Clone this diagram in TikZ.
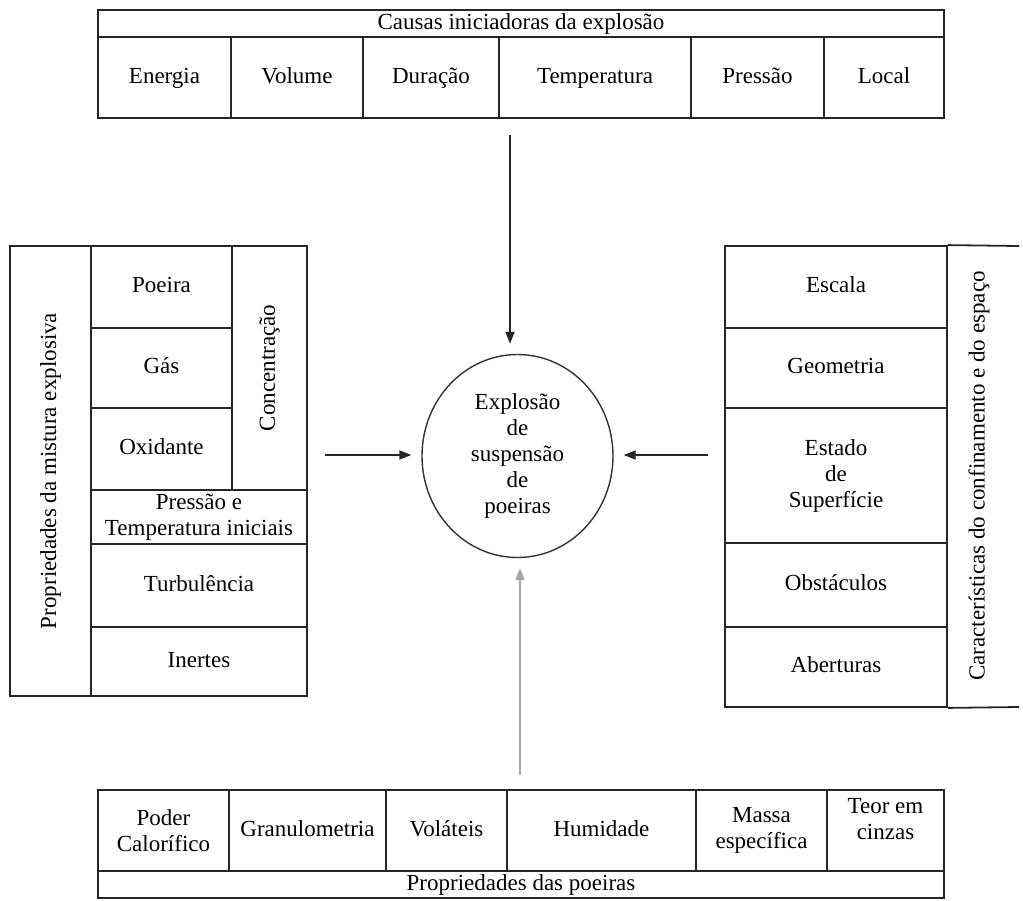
\documentclass[tikz,border=0pt]{standalone}
\usepackage{fontspec}
\setmainfont{Liberation Serif}
\usetikzlibrary{arrows.meta}
\usetikzlibrary{calc}
\usetikzlibrary{shapes.geometric}

\begin{document}
\begin{tikzpicture}[x=0.5pt,y=-0.5pt,
        cell/.style={draw=black!85, line width=0.9pt, rectangle, inner sep=0pt, align=center, text=black, text height=8pt, text depth=2.5pt, font=\fontsize{11.5}{13}\selectfont},
        multi/.style={text height={}, text depth={}},
        celltext/.style={inner sep=0pt, align=center, text=black, font=\fontsize{11.5}{13}\selectfont},
        vtext/.style={rotate=90, inner sep=0pt, text=black, font=\fontsize{11.5}{13}\selectfont},
        flow/.style={draw=black!85, line width=0.9pt, -{Triangle[length=6pt,width=4.5pt]}, shorten >=5pt}]
        \newcommand{\dustcell}[7][]{\node[cell, #1, minimum width={(#5-#3)*0.5pt}, minimum height={(#6-#4)*0.5pt}] (#2) at ({(#3+#5)/2},{(#4+#6)/2}) {#7};}
        \useasboundingbox (0,0) rectangle (1023,900);
        \dustcell{causas}{98}{10}{944}{37}{Causas iniciadoras da explosão}
        \dustcell{energia}{98}{37}{231}{118}{Energia}
        \dustcell{volume}{231}{37}{363}{118}{Volume}
        \dustcell{duracao}{363}{37}{499}{118}{Duração}
        \dustcell{temperatura}{499}{37}{691}{118}{Temperatura}
        \dustcell{pressao}{691}{37}{824}{118}{Pressão}
        \dustcell{local}{824}{37}{944}{118}{Local}
        \dustcell{mistura}{10}{246}{91}{696}{}
        \node[vtext] (misturalbl) at (mistura.center) {Propriedades da mistura explosiva};
        \dustcell{poeira}{91}{246}{232}{328}{Poeira}
        \dustcell{gas}{91}{328}{232}{408}{Gás}
        \dustcell{oxidante}{91}{408}{232}{490}{Oxidante}
        \dustcell{concentracao}{232}{246}{307}{490}{}
        \node[vtext] (concentracaolbl) at (concentracao.center) {Concentração};
        \dustcell[multi]{inicial}{91}{490}{307}{544}{Pressão e\\Temperatura iniciais}
        \dustcell{turbulencia}{91}{544}{307}{627}{Turbulência}
        \dustcell{inertes}{91}{627}{307}{696}{Inertes}
        \dustcell{escala}{725}{246}{947}{328}{Escala}
        \dustcell{geometria}{725}{328}{947}{408}{Geometria}
        \dustcell[multi]{estado}{725}{408}{947}{543}{Estado\\de\\Superfície}
        \dustcell{obstaculos}{725}{543}{947}{627}{Obstáculos}
        \dustcell{aberturas}{725}{627}{947}{707}{Aberturas}
        \coordinate (edgetop) at (1019,246);
        \coordinate (edgebottom) at (1019,707);
        \draw[draw=black!85, line width=0.9pt] (escala.north east) -- (edgetop);
        \draw[draw=black!85, line width=0.9pt] (aberturas.south east) -- (edgebottom);
        \node[vtext] (confinamento) at (979,476) {Características do confinamento e do espaço};
        \dustcell[multi]{calorifico}{98}{790}{229}{871}{Poder\\Calorífico}
        \dustcell{granulometria}{229}{790}{386}{871}{Granulometria}
        \dustcell{volateis}{386}{790}{507}{871}{Voláteis}
        \dustcell{humidade}{507}{790}{696}{871}{Humidade}
        \dustcell[multi]{massa}{696}{790}{827}{871}{Massa\\específica}
        \dustcell{cinzas}{827}{790}{944}{871}{}
        \node[celltext] (cinzaslbl) at ($(cinzas.center)+(0,-11)$) {Teor em\\cinzas};
        \dustcell{poeiras}{98}{871}{944}{898}{Propriedades das poeiras}
        \node[draw=black!80, line width=0.7pt, ellipse, minimum width=95.5pt, minimum height=101.5pt, inner sep=0pt, align=center, text=black, font=\fontsize{11.5}{13}\selectfont] (explosao) at (517.5,456) {Explosão\\de\\suspensão\\de\\poeiras};
        \coordinate (causasfoot) at (510,135);
        \coordinate (misturafoot) at (325,455);
        \coordinate (confinamentofoot) at (708,455);
        \coordinate (poeirasfoot) at (520,775);
        \draw[flow] (causasfoot) -- (causasfoot |- explosao.north);
        \draw[flow] (misturafoot) -- (misturafoot -| explosao.west);
        \draw[flow] (confinamentofoot) -- (confinamentofoot -| explosao.east);
        \draw[flow, draw=black!35] (poeirasfoot) -- (poeirasfoot |- explosao.south);
\end{tikzpicture}
\end{document}
